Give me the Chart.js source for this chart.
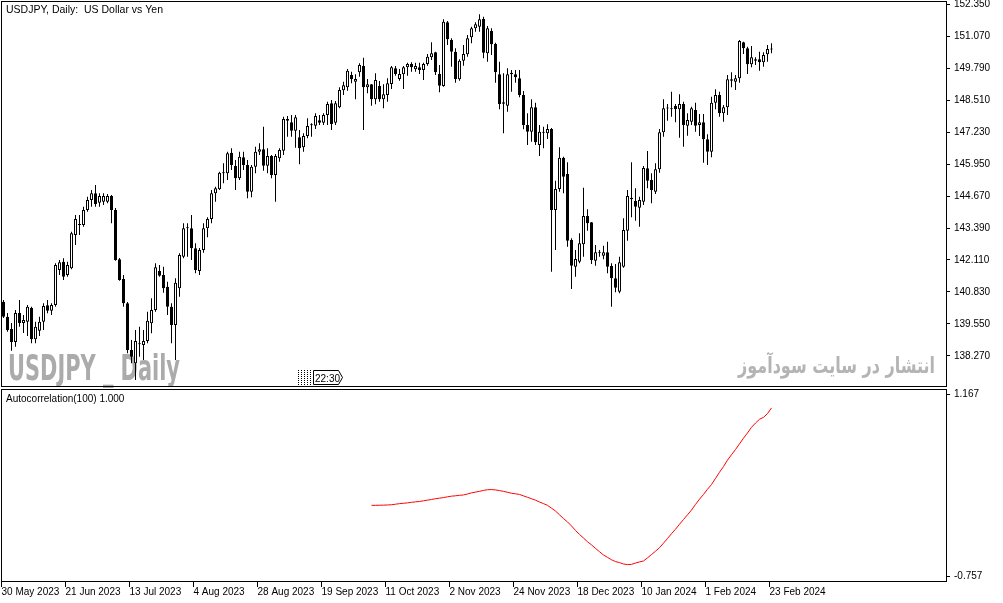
<!DOCTYPE html>
<html>
<head>
<meta charset="utf-8">
<title>USDJPY Daily</title>
<script src="https://cdn.jsdelivr.net/npm/chart.js@4.4.1/dist/chart.umd.min.js"></script>
<style>
  html, body { margin: 0; padding: 0; background: #fff; }
  #wrap { position: relative; width: 1003px; height: 603px; overflow: hidden; background: #fff; }
  #price { position: absolute; left: 0; top: 0; }
  #acf { position: absolute; left: 0; top: 388px; }
</style>
</head>
<body>
<div id="wrap">
  <canvas id="price" width="1003" height="388"></canvas>
  <canvas id="acf" width="1003" height="215"></canvas>
</div>
<script>
// daily bars, 30 May 2023 .. 23 Feb 2024 (bar index = position on the time axis)
var openP = [
  140.44,139.84,139.35,138.83,139.99,139.59,139.64,140.20,138.94,139.28,
  139.64,140.30,140.08,140.31,141.71,142.04,141.51,141.78,143.11,143.55,
  143.51,144.11,144.51,144.78,144.40,144.44,144.44,144.68,144.11,142.14,
  141.35,140.38,138.51,137.98,138.74,138.71,138.87,139.58,140.11,141.67,
  141.51,141.04,140.24,139.51,140.98,142.24,143.38,143.38,142.58,141.67,
  142.51,143.38,143.75,144.78,144.94,145.58,145.58,146.40,145.87,145.38,
  146.22,145.91,144.84,145.84,146.44,146.54,145.88,146.27,145.51,146.18,
  146.48,147.75,147.62,147.28,147.02,146.62,147.07,147.50,147.48,147.70,
  147.60,147.91,148.38,147.60,148.22,148.90,149.02,149.51,149.24,149.62,
  149.87,149.02,149.14,148.54,149.07,148.54,148.71,149.15,149.78,149.35,
  149.54,149.82,149.95,149.74,149.82,149.71,149.95,150.22,150.42,149.55,
  149.07,151.62,150.91,150.44,149.34,150.08,150.34,151.02,151.38,151.44,
  151.75,150.38,151.27,150.75,149.54,148.42,148.28,149.60,149.54,149.38,
  148.71,147.51,147.24,148.22,146.71,147.20,147.18,147.35,144.11,144.95,
  146.20,145.55,142.91,141.84,142.04,142.74,143.87,143.62,142.08,142.40,
  142.28,142.42,141.87,141.38,140.84,141.84,143.28,144.60,144.47,144.20,
  144.44,145.78,145.31,144.84,145.74,147.22,148.17,148.18,148.27,148.14,
  148.35,147.48,147.64,148.11,147.51,147.62,146.94,146.44,148.40,148.71,
  147.98,148.22,149.28,149.24,149.38,150.82,150.58,149.94,150.14,150.14,
  150.02,150.34,150.53
];
var highP = [
  140.51,139.99,139.59,140.11,140.51,139.91,140.31,140.24,139.64,139.84,
  140.38,140.51,140.38,141.98,142.11,142.18,142.04,143.24,143.91,143.91,
  144.24,144.64,144.91,145.11,144.78,144.78,144.75,144.71,144.19,142.19,
  141.51,140.43,138.91,139.31,139.44,139.31,140.04,140.58,141.98,141.91,
  141.84,141.24,140.38,141.38,142.38,143.58,143.58,143.91,142.78,142.59,
  143.58,143.82,144.91,145.04,145.64,145.98,146.44,146.58,146.11,146.44,
  146.44,146.11,145.91,146.64,146.78,147.44,146.58,146.31,146.35,146.58,
  147.84,147.87,147.91,147.91,147.31,147.18,147.78,147.58,147.98,147.91,
  147.98,148.44,148.51,148.47,149.02,149.24,149.75,149.64,149.54,149.98,
  150.20,149.35,149.15,149.58,149.27,149.14,149.38,149.87,149.87,149.75,
  149.87,150.00,150.02,150.00,150.00,150.00,150.35,150.82,150.44,149.91,
  151.74,151.67,150.98,150.58,150.14,150.71,151.11,151.44,151.62,151.94,
  151.84,151.47,151.38,150.80,150.04,149.58,149.78,149.71,149.71,149.71,
  148.87,147.98,148.54,148.40,147.51,147.44,147.54,147.39,145.28,146.62,
  146.24,146.02,142.98,142.51,143.18,145.00,144.14,143.63,142.71,142.51,
  142.68,142.84,141.98,141.95,142.24,143.78,144.91,146.02,144.98,144.64,
  145.87,146.47,145.58,145.98,147.35,148.54,148.35,148.84,148.35,148.74,
  148.44,147.98,148.24,148.40,147.95,147.95,147.14,148.64,148.94,148.84,
  148.31,149.51,149.62,149.51,150.91,150.84,150.64,150.67,150.22,150.44,
  150.42,150.71,150.78
];
var lowP = [
  139.79,139.24,138.48,138.64,139.44,139.19,139.07,138.78,138.78,139.07,
  139.31,139.98,139.91,140.24,141.51,141.31,141.44,141.74,142.71,143.11,
  143.44,144.04,144.24,144.24,144.24,144.31,144.38,143.58,142.08,141.28,
  140.24,138.38,137.98,137.31,138.24,138.11,138.78,139.18,140.04,141.44,
  140.80,139.91,138.78,138.11,140.64,142.18,142.24,142.11,141.58,141.51,
  142.40,143.02,143.58,144.44,144.91,145.18,145.31,145.71,144.91,145.31,
  145.71,144.58,144.62,145.58,146.31,145.68,145.58,145.38,144.44,146.04,
  146.31,147.04,147.04,146.60,145.94,146.44,146.98,147.04,147.35,147.51,
  147.51,147.51,147.31,147.51,148.18,148.71,148.88,149.18,148.54,149.44,
  147.31,148.78,148.28,148.34,148.44,148.18,148.44,148.95,149.48,149.28,
  148.95,149.48,149.64,149.64,149.55,149.31,149.88,150.11,149.51,148.82,
  149.04,150.71,149.84,149.20,149.28,149.88,150.24,150.78,151.24,151.24,
  150.18,150.04,150.31,149.20,148.14,147.18,148.04,148.84,149.20,148.62,
  147.34,146.71,146.84,146.71,146.27,146.58,146.95,141.64,142.51,144.84,
  144.78,142.64,140.95,141.44,141.98,142.24,143.28,141.95,141.88,142.24,
  142.14,141.58,140.24,140.82,140.78,141.80,142.88,143.82,143.68,143.44,
  144.31,144.98,144.38,144.75,145.60,147.04,147.68,147.84,147.62,147.00,
  146.64,147.08,147.51,147.24,147.07,146.00,145.91,146.22,148.14,147.84,
  147.64,147.91,149.02,148.91,149.20,150.35,149.55,149.82,149.91,149.68,
  149.84,150.04,150.38
];
var closeP = [
  139.84,139.31,138.83,139.99,139.59,139.71,140.24,138.94,139.44,139.64,
  140.27,140.08,140.31,141.91,142.02,141.44,141.91,143.18,143.75,143.51,
  144.11,144.51,144.78,144.35,144.67,144.67,144.67,144.11,142.11,141.31,
  140.38,138.51,138.24,138.87,138.75,138.87,139.68,140.11,141.82,141.48,
  140.98,140.24,139.51,141.20,142.31,143.38,143.39,142.58,141.71,142.51,
  143.38,143.75,144.78,144.98,145.60,145.59,146.38,145.91,145.38,146.24,
  145.91,144.84,145.84,146.44,146.54,145.88,146.27,145.51,146.27,146.51,
  147.75,147.68,147.28,147.82,146.58,147.07,147.47,147.51,147.87,147.60,
  147.91,148.35,147.55,148.38,148.91,149.10,149.68,149.34,149.35,149.91,
  149.02,149.14,148.54,149.31,148.54,148.74,149.18,149.82,149.55,149.55,
  149.82,149.95,149.82,149.87,149.71,149.95,150.24,150.38,149.62,149.08,
  151.64,150.94,150.44,149.35,150.08,150.35,150.98,151.38,151.54,151.74,
  150.40,151.38,150.74,149.62,148.35,148.36,149.54,149.54,149.42,148.71,
  147.51,147.24,148.22,146.82,147.24,147.22,147.35,144.11,144.95,146.20,
  145.44,142.88,141.88,142.15,142.78,143.87,143.58,142.11,142.42,142.41,
  142.42,141.84,141.38,141.00,142.02,143.31,144.67,144.54,144.24,144.51,
  145.79,145.28,144.91,145.74,147.22,148.18,148.18,148.14,148.14,148.35,
  147.51,147.71,148.18,147.48,147.62,146.94,146.44,148.40,148.71,147.98,
  148.22,149.34,149.34,149.38,150.87,150.58,149.94,150.22,150.08,150.02,
  150.31,150.55,150.54
];

// Autocorrelation(100), first value sits on bar 92
var acfStart = 92;
var acfValues = [
  -0.010,-0.010,-0.009,-0.008,-0.006,-0.004,0.002,0.008,0.012,0.016,
  0.022,0.027,0.031,0.038,0.045,0.052,0.060,0.066,0.072,0.080,
  0.087,0.091,0.096,0.100,0.110,0.122,0.130,0.138,0.148,0.155,
  0.157,0.153,0.146,0.138,0.128,0.118,0.112,0.105,0.090,0.075,
  0.060,0.045,0.025,0.008,-0.010,-0.040,-0.070,-0.110,-0.150,-0.185,
  -0.228,-0.275,-0.318,-0.355,-0.395,-0.428,-0.465,-0.500,-0.535,-0.560,
  -0.585,-0.605,-0.615,-0.630,-0.636,-0.634,-0.620,-0.608,-0.598,-0.565,
  -0.530,-0.495,-0.458,-0.410,-0.360,-0.310,-0.262,-0.210,-0.160,-0.110,
  -0.060,0.000,0.055,0.105,0.160,0.210,0.275,0.340,0.400,0.468,
  0.525,0.580,0.640,0.700,0.755,0.815,0.860,0.900,0.920,0.960,
  1.020
];

var priceTicks = [152.35,151.07,149.79,148.51,147.23,145.95,144.67,143.39,142.11,140.83,139.55,138.27];
var acfTicks = [1.167, -0.757];
var dateBars = [0,16,32,48,64,80,96,112,128,144,160,176,192];
var dateLabels = ["30 May 2023","21 Jun 2023","13 Jul 2023","4 Aug 2023","28 Aug 2023","19 Sep 2023",
  "11 Oct 2023","2 Nov 2023","24 Nov 2023","18 Dec 2023","10 Jan 2024","1 Feb 2024","23 Feb 2024"];

var xMin = -0.625, xMax = 235.625;

Chart.defaults.font.family = '"Liberation Sans", Arial, sans-serif';
Chart.defaults.font.size = 10;
Chart.defaults.color = '#000';

var bodies = [], wicks = [], bodyFill = [];
for (var i = 0; i < openP.length; i++) {
  bodies.push({x: i, y: [openP[i], closeP[i]]});
  wicks.push({x: i, y: [lowP[i], highP[i]]});
  bodyFill.push(closeP[i] > openP[i] ? '#ffffff' : '#000000');
}
var acfPoints = acfValues.map(function(v, k){ return {x: acfStart + k, y: v}; });

function noPad(s){ s.paddingLeft = 0; s.paddingRight = 0; s.paddingTop = 0; s.paddingBottom = 0; }

var framePlugin = {
  id: 'frame',
  afterDraw: function(chart){
    var a = chart.chartArea, c = chart.ctx;
    c.save();
    c.strokeStyle = '#000';
    c.lineWidth = 1;
    c.strokeRect(a.left + 0.5, a.top + 0.5, a.right - a.left, a.bottom - a.top - 1);
    c.restore();
  }
};

function fittedText(c, text, font, color, x, base, width, rightAlign){
  c.save();
  c.font = font;
  c.fillStyle = color;
  c.textAlign = 'left';
  c.textBaseline = 'alphabetic';
  var w = c.measureText(text).width;
  c.translate(rightAlign ? x - width : x, base);
  c.scale(width / w, 1);
  c.fillText(text, 0, 0);
  c.restore();
}

var priceDecor = {
  id: 'priceDecor',
  beforeDatasetsDraw: function(chart){
    var c = chart.ctx;
    fittedText(c, 'USDJPY _ Daily', 'bold 36px "Liberation Sans Narrow", "DejaVu Sans Condensed", "Liberation Sans"', '#ababab', 8, 380, 172, false);
    fittedText(c, 'انتشار در سایت سودآموز', 'bold 22px "DejaVu Sans"', '#b4b4b4', 935, 373, 197, true);
  },
  afterDraw: function(chart){
    var c = chart.ctx;
    c.save();
    c.fillStyle = '#000';
    c.font = '10.5px "Liberation Sans"';
    c.textBaseline = 'alphabetic';
    c.fillText('USDJPY, Daily:  US Dollar vs Yen', 6, 13);
    // bar timer marker
    c.strokeStyle = '#000';
    c.lineWidth = 1;
    c.setLineDash([1, 1]);
    [298.5, 301.5, 304.5, 307.5, 310.5].forEach(function(px){
      c.beginPath(); c.moveTo(px, 370); c.lineTo(px, 386); c.stroke();
    });
    c.setLineDash([]);
    c.beginPath();
    c.moveTo(313.5, 370.5); c.lineTo(338.5, 370.5); c.lineTo(342.5, 377.5);
    c.lineTo(338.5, 384.5); c.lineTo(313.5, 384.5); c.closePath();
    c.fillStyle = '#fff'; c.fill(); c.stroke();
    c.fillStyle = '#000';
    c.font = '10px "Liberation Sans"';
    c.fillText('22:30', 315, 381.5);
    c.restore();
  }
};

var acfDecor = {
  id: 'acfDecor',
  afterDraw: function(chart){
    var c = chart.ctx;
    c.save();
    c.fillStyle = '#000';
    c.font = '10px "Liberation Sans"';
    c.fillText('Autocorrelation(100) 1.000', 6, 14);
    c.restore();
  }
};

new Chart(document.getElementById('price'), {
  type: 'bar',
  data: {
    datasets: [
      { data: bodies, backgroundColor: bodyFill, borderColor: '#000', borderWidth: 1,
        borderSkipped: false, barThickness: 3, minBarLength: 1, grouped: false, inflateAmount: 0, order: 0 },
      { data: wicks, backgroundColor: '#000', borderWidth: 0,
        barThickness: 1, minBarLength: 1, grouped: false, inflateAmount: 0, order: 1 }
    ]
  },
  options: {
    responsive: false,
    animation: false,
    devicePixelRatio: 1,
    layout: { padding: { left: 1, top: 1, right: 0, bottom: 1 } },
    plugins: { legend: { display: false }, tooltip: { enabled: false } },
    scales: {
      x: { type: 'linear', display: false, min: xMin, max: xMax, offset: false, bounds: 'data', afterFit: noPad },
      y: {
        position: 'right', min: 137.03, max: 152.47, bounds: 'data',
        afterBuildTicks: function(s){ s.ticks = priceTicks.map(function(v){ return {value: v}; }); },
        ticks: { callback: function(v){ return v.toFixed(3); }, padding: 4, autoSkip: false },
        grid: { drawOnChartArea: false, tickLength: 4, color: '#000' },
        border: { display: false },
        afterFit: function(s){ noPad(s); s.width = 57; }
      }
    }
  },
  plugins: [framePlugin, priceDecor]
});

new Chart(document.getElementById('acf'), {
  type: 'line',
  data: {
    datasets: [
      { data: acfPoints, borderColor: '#ff0000', borderWidth: 1, pointRadius: 0, tension: 0, fill: false }
    ]
  },
  options: {
    responsive: false,
    animation: false,
    devicePixelRatio: 1,
    layout: { padding: { left: 1, top: 1, right: 0, bottom: 0 } },
    plugins: { legend: { display: false }, tooltip: { enabled: false } },
    scales: {
      x: {
        type: 'linear', min: xMin, max: xMax, offset: false, bounds: 'data',
        afterBuildTicks: function(s){ s.ticks = dateBars.map(function(b){ return {value: b - 0.5}; }); },
        ticks: { callback: function(v, k){ return dateLabels[k]; }, align: 'start', maxRotation: 0,
                 autoSkip: false, padding: 0, font: { size: 10, lineHeight: 1 } },
        grid: { drawOnChartArea: false, tickLength: 5, color: '#000' },
        border: { display: false },
        afterFit: function(s){ noPad(s); s.height = 21; }
      },
      y: {
        position: 'right', min: -0.8204, max: 1.2199, bounds: 'data',
        afterBuildTicks: function(s){ s.ticks = acfTicks.map(function(v){ return {value: v}; }); },
        ticks: { callback: function(v){ return v.toFixed(3); }, padding: 4, autoSkip: false },
        grid: { drawOnChartArea: false, tickLength: 4, color: '#000' },
        border: { display: false },
        afterFit: function(s){ noPad(s); s.width = 57; }
      }
    }
  },
  plugins: [framePlugin, acfDecor]
});
</script>
</body>
</html>
